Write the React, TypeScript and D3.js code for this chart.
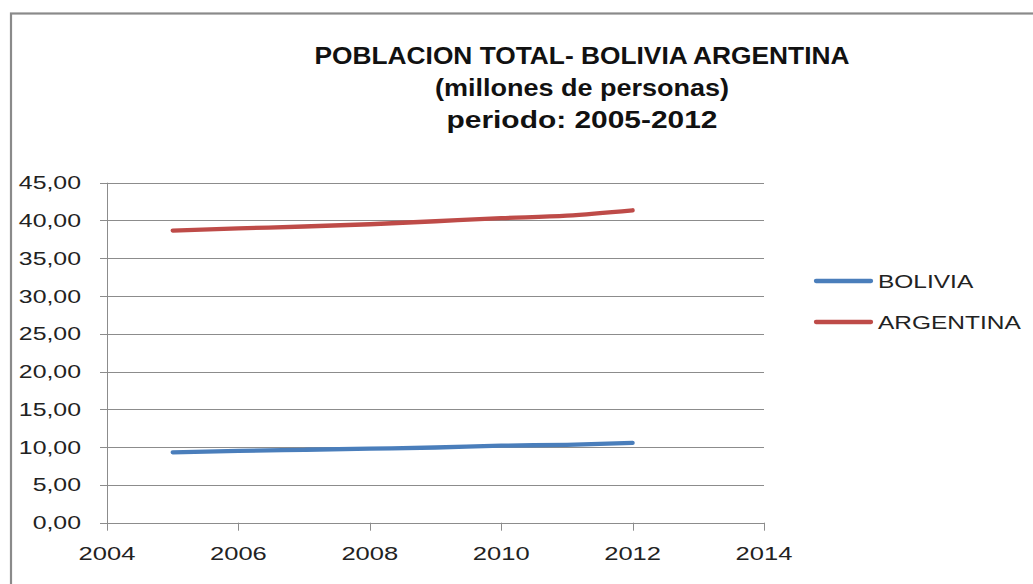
import React from "react";
import * as d3 from "d3";

const years = [2005, 2006, 2007, 2008, 2009, 2010, 2011, 2012];
const bolivia = [9.32, 9.5, 9.65, 9.8, 9.95, 10.2, 10.3, 10.56];
const argentina = [38.67, 38.95, 39.2, 39.5, 39.9, 40.3, 40.65, 41.35];
const xTicks = [2004, 2006, 2008, 2010, 2012, 2014];
const yTicks = [0, 5, 10, 15, 20, 25, 30, 35, 40, 45];
const titleLines = [
  "POBLACION TOTAL- BOLIVIA ARGENTINA",
  "(millones de personas)",
  "periodo: 2005-2012",
];
const seriesNames = ["BOLIVIA", "ARGENTINA"];
const seriesColors = ["#4a7ebb", "#be4b48"];

const W = 1033;
const H = 584;
const FONT = "'Liberation Sans', Arial, sans-serif";
const SX = 1.38;

export default function App() {
  const x = d3.scaleLinear().domain([2004, 2014]).range([107, 764]);
  const y = d3.scaleLinear().domain([0, 45]).range([522.7, 182.7]);
  const line = d3
    .line<number>()
    .x((_, i) => x(years[i]))
    .y((d) => y(d))
    .curve(d3.curveMonotoneX);
  const series = [bolivia, argentina];
  const titleWidths = [535, 294, 271];
  const titleY = [64, 96, 128];

  return (
    <svg
      width={W}
      height={H}
      style={{ position: "absolute", left: 0, top: 0, background: "#fff" }}
    >
      <rect x={0} y={0} width={W} height={H} fill="#fff" />
      <rect
        x={11}
        y={13.5}
        width={W + 20}
        height={H + 20}
        fill="#fff"
        stroke="#8a8a8a"
        strokeWidth={2.2}
      />
      {titleLines.map((t, i) => (
        <text
          key={t}
          x={582}
          y={titleY[i]}
          textAnchor="middle"
          fontFamily={FONT}
          fontWeight="bold"
          fontSize={23}
          fill="#111"
          textLength={titleWidths[i]}
          lengthAdjust="spacingAndGlyphs"
        >
          {t}
        </text>
      ))}
      {yTicks.map((t) => (
        <line
          key={"g" + t}
          x1={100}
          x2={764}
          y1={Math.round(y(t)) + 0.5}
          y2={Math.round(y(t)) + 0.5}
          stroke="#8c8c8c"
          strokeWidth={1}
        />
      ))}
      <line
        x1={107.5}
        x2={107.5}
        y1={y(45)}
        y2={y(0) + 1}
        stroke="#8c8c8c"
        strokeWidth={1}
      />
      {xTicks.map((t) => (
        <line
          key={"xt" + t}
          x1={Math.round(x(t)) + 0.5}
          x2={Math.round(x(t)) + 0.5}
          y1={y(0)}
          y2={y(0) + 8}
          stroke="#8c8c8c"
          strokeWidth={1}
        />
      ))}
      {yTicks.map((t) => (
        <text
          key={"yl" + t}
          transform={`translate(81,${y(t) + 6.5}) scale(${SX},1)`}
          textAnchor="end"
          fontFamily={FONT}
          fontSize={18}
          fill="#222"
        >
          {d3.format(".2f")(t).replace(".", ",")}
        </text>
      ))}
      {xTicks.map((t) => (
        <text
          key={"xl" + t}
          transform={`translate(${x(t)},${560}) scale(${SX},1)`}
          textAnchor="middle"
          fontFamily={FONT}
          fontSize={18.5}
          fill="#222"
        >
          {String(t)}
        </text>
      ))}
      {series.map((s, i) => (
        <path
          key={"s" + i}
          d={line(s) || ""}
          fill="none"
          stroke={seriesColors[i]}
          strokeWidth={4.3}
          strokeLinecap="round"
          strokeLinejoin="round"
        />
      ))}
      {seriesNames.map((n, i) => (
        <g key={"lg" + n}>
          <line
            x1={816}
            x2={871}
            y1={281 + i * 41}
            y2={281 + i * 41}
            stroke={seriesColors[i]}
            strokeWidth={4.3}
            strokeLinecap="round"
          />
          <text
            transform={`translate(878,${281 + i * 41 + 6.5}) scale(1.4,1)`}
            fontFamily={FONT}
            fontSize={17.5}
            fill="#222"
          >
            {n}
          </text>
        </g>
      ))}
    </svg>
  );
}
